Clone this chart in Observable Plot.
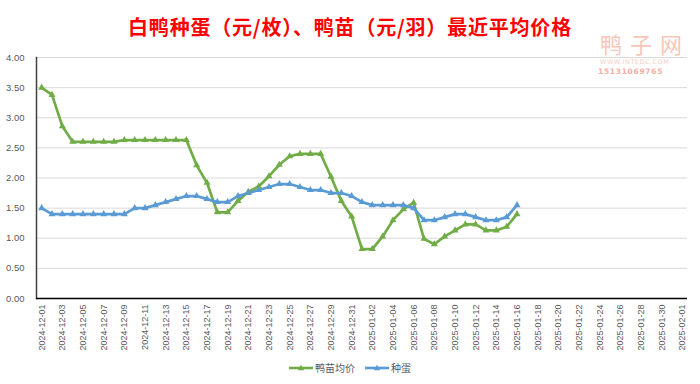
<!DOCTYPE html>
<html>
<head>
<meta charset="utf-8">
<script src="https://cdn.jsdelivr.net/npm/d3@7"></script>
<script src="https://cdn.jsdelivr.net/npm/@observablehq/plot@0.6"></script>
<style>
  body { margin: 0; background: #fff; }
  #wrap { position: relative; width: 700px; height: 384px; overflow: hidden; background: #fff; font-family: "Noto Sans CJK SC", sans-serif; }
  #title { position: absolute; left: 0; width: 700px; top: 13px; text-align: center; color: #ff0000; font-weight: bold; font-size: 20px; letter-spacing: 0.8px; line-height: 28px; font-family: "Noto Sans CJK SC", sans-serif; }
  #wm1 { position: absolute; left: 600px; top: 29px; font-size: 22px; letter-spacing: 8px; color: #f7c6b8; font-family: "Noto Sans CJK SC", sans-serif; line-height: 28px; }
  #wm2 { position: absolute; left: 600px; top: 58px; font-size: 6.5px; color: #f3cfc6; font-family: "DejaVu Sans", sans-serif; letter-spacing: 0.5px; }
  #wm3 { position: absolute; left: 598px; top: 67px; font-size: 7.5px; color: #f4aea2; font-weight: bold; font-family: "DejaVu Sans", sans-serif; letter-spacing: 0.7px; }
  #legend { position: absolute; top: 361px; left: 0; width: 700px; display: flex; justify-content: center; gap: 10px; font-size: 10px; color: #595959; font-family: "Noto Sans CJK SC", sans-serif; line-height: 14px; }
  .item { display: flex; align-items: center; gap: 2px; }
  svg.plot { position: absolute; left: 0; top: 0; }
</style>
</head>
<body>
<div id="wrap">
  <div id="title">白鸭种蛋（元/枚）、鸭苗（元/羽）最近平均价格</div>
  <div id="wm1">鸭子网</div>
  <div id="wm2">WWW.INTEDC.COM</div>
  <div id="wm3">15131069765</div>
  <div id="legend"></div>
</div>
<script>
// Data dates (daily, 2024-12-01 .. 2025-01-16)
const dates = [
  "2024-12-01","2024-12-02","2024-12-03","2024-12-04","2024-12-05","2024-12-06","2024-12-07","2024-12-08",
  "2024-12-09","2024-12-10","2024-12-11","2024-12-12","2024-12-13","2024-12-14","2024-12-15","2024-12-16",
  "2024-12-17","2024-12-18","2024-12-19","2024-12-20","2024-12-21","2024-12-22","2024-12-23","2024-12-24",
  "2024-12-25","2024-12-26","2024-12-27","2024-12-28","2024-12-29","2024-12-30","2024-12-31","2025-01-01",
  "2025-01-02","2025-01-03","2025-01-04","2025-01-05","2025-01-06","2025-01-07","2025-01-08","2025-01-09",
  "2025-01-10","2025-01-11","2025-01-12","2025-01-13","2025-01-14","2025-01-15","2025-01-16"
];
// 鸭苗均价
const duckling = [
  3.50,3.38,2.86,2.60,2.60,2.60,2.60,2.60,
  2.63,2.63,2.63,2.63,2.63,2.63,2.63,2.21,
  1.92,1.43,1.43,1.62,1.77,1.86,2.03,2.22,
  2.36,2.40,2.40,2.40,2.02,1.62,1.36,0.82,
  0.82,1.03,1.30,1.48,1.59,0.99,0.90,1.03,
  1.13,1.23,1.23,1.13,1.13,1.19,1.40
];
// 种蛋
const eggs = [
  1.50,1.40,1.40,1.40,1.40,1.40,1.40,1.40,
  1.40,1.50,1.50,1.55,1.60,1.65,1.70,1.70,
  1.65,1.60,1.60,1.70,1.75,1.80,1.85,1.90,
  1.90,1.85,1.80,1.80,1.75,1.75,1.70,1.60,
  1.55,1.55,1.55,1.55,1.50,1.30,1.30,1.35,
  1.40,1.40,1.35,1.30,1.30,1.35,1.55
];
// X tick labels (every other day)
const xTicks = [
  "2024-12-01","2024-12-03","2024-12-05","2024-12-07","2024-12-09","2024-12-11","2024-12-13","2024-12-15",
  "2024-12-17","2024-12-19","2024-12-21","2024-12-23","2024-12-25","2024-12-27","2024-12-29","2024-12-31",
  "2025-01-02","2025-01-04","2025-01-06","2025-01-08","2025-01-10","2025-01-12","2025-01-14","2025-01-16",
  "2025-01-18","2025-01-20","2025-01-22","2025-01-24","2025-01-26","2025-01-28","2025-01-30","2025-02-01"
];
const yTicks = [0, 0.5, 1, 1.5, 2, 2.5, 3, 3.5, 4];
const seriesNames = ["鸭苗均价", "种蛋"];
const seriesColors = ["#70ad47", "#5b9bd5"];

const fmt = d3.utcFormat("%Y-%m-%d");
const domain = d3.utcDay.range(new Date(xTicks[0]), d3.utcDay.offset(new Date(xTicks[xTicks.length - 1]), 1)).map(fmt);

const rows = [];
dates.forEach((d, i) => rows.push({date: d, value: duckling[i], series: seriesNames[0]}));
dates.forEach((d, i) => rows.push({date: d, value: eggs[i], series: seriesNames[1]}));

const color = {domain: seriesNames, range: seriesColors};

const chart = Plot.plot({
  width: 700,
  height: 384,
  marginTop: 57,
  marginBottom: 86,
  marginLeft: 36,
  marginRight: 13,
  style: {fontFamily: "'Liberation Sans', Arial, sans-serif", fontSize: "9.5px", color: "#595959", background: "transparent"},
  x: {type: "point", domain: domain, padding: 0.5, round: false, label: null},
  y: {domain: [0, 4], label: null},
  color: color,
  marks: [
    Plot.gridY(yTicks, {stroke: "#d9d9d9", strokeOpacity: 1, strokeWidth: 1}),
    Plot.axisY(yTicks, {tickSize: 0, tickPadding: 12, tickFormat: d3.format(".2f"), fill: "#595959", fontSize: 9.5, label: null}),
    Plot.axisX(xTicks, {tickSize: 0, tickPadding: 6, tickRotate: -90, fill: "#595959", fontSize: 9, label: null}),
    Plot.frame({anchor: "left", stroke: "#404040", strokeWidth: 1.5}),
    Plot.ruleY([0], {stroke: "#000", strokeWidth: 1.5}),
    Plot.line(rows, {x: "date", y: "value", z: "series", stroke: "series", strokeWidth: 2.7}),
    Plot.dot(rows, {x: "date", y: "value", fill: "series", symbol: "triangle", r: 2.6, stroke: null})
  ]
});
document.getElementById("wrap").appendChild(chart);

// Legend
const legend = d3.select("#legend");
seriesNames.forEach((name, i) => {
  const item = legend.append("div").attr("class", "item");
  const s = item.append("svg").attr("width", 24).attr("height", 10);
  s.append("line").attr("x1", 0).attr("x2", 24).attr("y1", 5).attr("y2", 5)
    .attr("stroke", seriesColors[i]).attr("stroke-width", 2.6);
  s.append("path").attr("d", d3.symbol(d3.symbolTriangle, 18)()).attr("transform", "translate(12,5.5)")
    .attr("fill", seriesColors[i]);
  item.append("span").text(name);
});
</script>
</body>
</html>
